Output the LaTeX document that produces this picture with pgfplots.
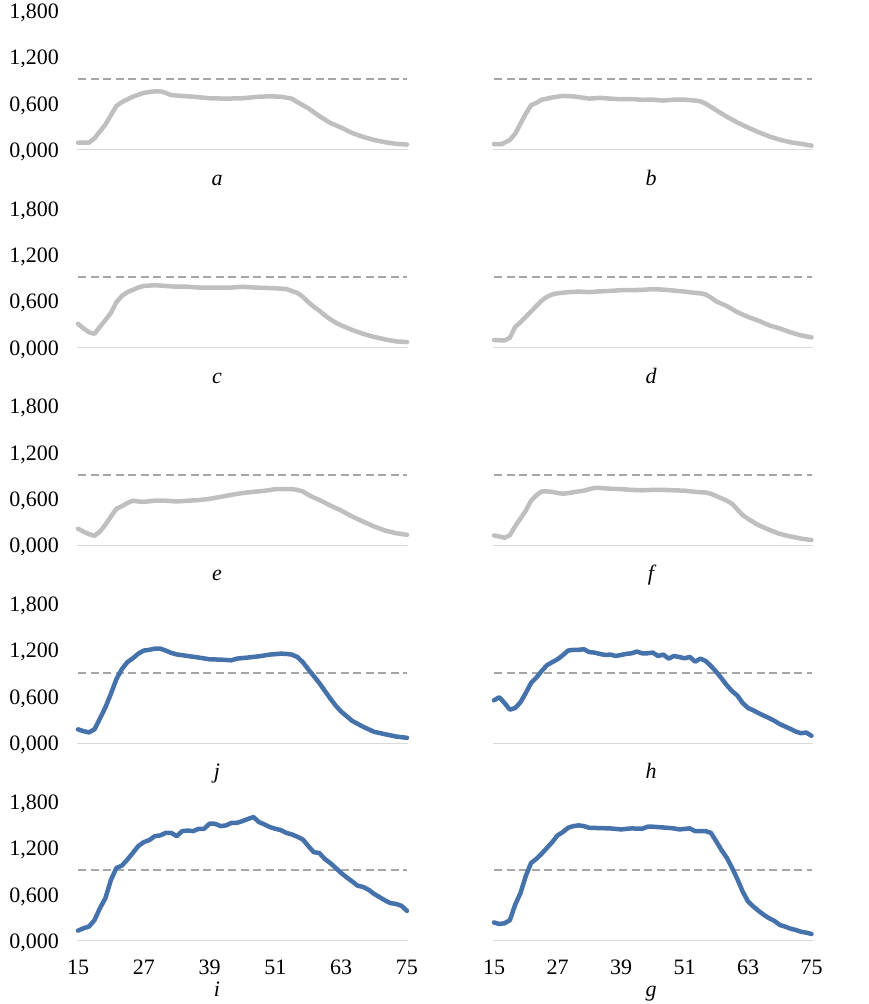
\documentclass[border=0pt]{standalone}
\usepackage{fontspec}
\setmainfont{Liberation Serif}
\usepackage{pgfplots}
\usepackage{pgfplotstable}
\pgfplotsset{compat=1.18}
\definecolor{curvegray}{HTML}{BFBFBF}
\definecolor{dashgray}{HTML}{A6A6A6}
\definecolor{basegray}{HTML}{D9D9D9}
\definecolor{curveblue}{HTML}{4672AC}

\pgfplotstableread{
x y
15 0.094
17 0.094
18 0.15
19 0.24
20 0.33
21 0.45
22 0.57
23 0.62
25 0.69
27 0.74
29 0.76
30 0.76
31 0.74
32 0.71
34 0.70
36 0.69
39 0.67
42 0.665
45 0.67
48 0.69
50 0.695
52 0.69
54 0.665
55 0.62
57 0.54
59 0.44
61 0.35
63 0.29
65 0.22
67 0.17
69 0.13
71 0.10
73 0.08
75 0.07
}\dataA

\pgfplotstableread{
x y
15 0.077
16.5 0.077
18 0.13
19 0.21
20 0.34
21 0.47
22 0.58
23 0.61
24 0.65
26 0.68
28 0.70
30 0.695
32 0.675
33 0.665
35 0.675
37 0.665
39 0.657
41 0.66
43 0.65
45 0.652
47 0.64
49 0.652
51 0.652
53 0.64
54 0.63
55 0.60
57 0.515
59 0.43
61 0.356
63 0.29
65 0.23
67 0.176
69 0.133
71 0.10
73 0.08
75 0.056
}\dataB

\pgfplotstableread{
x y
15 0.31
16 0.25
17 0.20
18 0.18
19 0.27
20 0.36
21 0.45
22 0.59
23 0.67
24 0.72
25 0.75
26 0.78
27 0.80
29 0.81
31 0.80
33 0.79
35 0.79
37 0.78
39 0.78
41 0.78
43 0.78
45 0.79
47 0.78
49 0.775
51 0.77
53 0.76
55 0.71
56 0.66
57 0.59
58 0.53
59 0.48
60 0.42
61 0.37
62 0.325
63 0.29
65 0.23
67 0.18
69 0.14
71 0.108
73 0.082
75 0.074
}\dataC

\pgfplotstableread{
x y
15 0.10
17 0.095
18 0.13
19 0.27
20 0.33
21 0.40
22 0.47
23 0.54
24 0.61
25 0.66
26 0.69
27 0.705
29 0.72
31 0.727
33 0.72
35 0.73
37 0.736
39 0.745
41 0.745
43 0.75
45 0.758
47 0.753
49 0.74
51 0.727
53 0.71
54 0.705
55 0.69
56 0.65
57 0.60
58 0.57
59 0.54
61 0.46
63 0.40
65 0.35
67 0.29
69 0.25
71 0.20
73 0.16
75 0.134
}\dataD

\pgfplotstableread{
x y
15 0.216
16 0.18
17 0.147
18 0.125
19 0.18
20 0.27
21 0.375
22 0.475
23 0.51
24 0.55
25 0.58
26 0.57
27 0.565
29 0.58
31 0.58
33 0.57
35 0.58
37 0.587
39 0.604
41 0.63
43 0.656
45 0.68
47 0.695
49 0.708
51 0.73
53 0.73
54 0.73
55 0.72
56 0.70
57 0.656
58 0.62
59 0.59
61 0.518
63 0.453
65 0.375
67 0.31
69 0.246
71 0.194
73 0.16
75 0.138
}\dataE

\pgfplotstableread{
x y
15 0.13
16 0.117
17 0.10
18 0.134
19 0.25
20 0.35
21 0.45
22 0.58
23 0.65
24 0.70
25 0.70
26 0.695
27 0.68
28 0.67
29 0.678
30 0.69
31 0.70
32 0.71
33 0.73
34 0.745
35 0.745
37 0.735
39 0.73
41 0.72
43 0.715
45 0.72
47 0.72
49 0.715
51 0.71
53 0.695
55 0.686
56 0.67
57 0.64
58 0.61
59 0.58
60 0.54
61 0.466
62 0.393
63 0.345
65 0.263
67 0.203
69 0.15
71 0.117
73 0.09
75 0.07
}\dataF

\pgfplotstableread{
x y
15 0.18
16 0.157
17 0.14
18 0.18
19 0.32
20 0.465
21 0.64
22 0.83
23 0.96
24 1.05
25 1.10
26 1.16
27 1.20
28 1.21
29 1.225
30 1.225
31 1.20
32 1.17
33 1.15
35 1.13
37 1.11
39 1.087
41 1.083
43 1.074
44 1.096
46 1.11
48 1.126
50 1.148
52 1.16
53 1.157
54 1.148
55 1.117
56 1.05
57 0.957
58 0.87
59 0.78
60 0.68
61 0.58
62 0.487
63 0.41
64 0.35
65 0.29
67 0.213
69 0.148
71 0.117
73 0.087
75 0.07
}\dataJ

\pgfplotstableread{
x y
15 0.556
16 0.596
17 0.52
18 0.435
19 0.457
20 0.53
21 0.65
22 0.78
23 0.85
24 0.935
25 1.01
26 1.05
27 1.087
28 1.14
29 1.20
30 1.21
31 1.21
32 1.217
33 1.18
34 1.174
35 1.157
36 1.143
37 1.148
38 1.13
39 1.143
40 1.157
41 1.165
42 1.187
43 1.165
44 1.165
45 1.174
46 1.13
47 1.148
48 1.096
49 1.13
50 1.117
51 1.10
52 1.117
53 1.057
54 1.096
55 1.065
56 1.0
57 0.926
58 0.84
59 0.75
60 0.674
61 0.617
62 0.52
63 0.457
64 0.426
65 0.39
66 0.357
67 0.326
68 0.29
69 0.248
70 0.217
71 0.187
72 0.152
73 0.13
74 0.139
75 0.096
}\dataH

\pgfplotstableread{
x y
15 0.134
16 0.165
17 0.187
18 0.27
19 0.425
20 0.555
21 0.79
22 0.945
23 0.976
24 1.054
25 1.14
26 1.23
27 1.28
28 1.306
29 1.358
30 1.367
31 1.40
32 1.40
33 1.358
34 1.423
35 1.43
36 1.423
37 1.453
38 1.453
39 1.52
40 1.518
41 1.488
42 1.497
43 1.53
44 1.53
45 1.553
46 1.58
47 1.605
48 1.54
49 1.51
50 1.475
51 1.453
52 1.436
53 1.40
54 1.38
55 1.35
56 1.315
57 1.23
58 1.15
59 1.14
60 1.063
61 1.01
62 0.946
63 0.88
64 0.824
65 0.772
66 0.716
67 0.70
68 0.664
69 0.61
70 0.568
71 0.525
72 0.49
73 0.48
74 0.455
75 0.39
}\dataI

\pgfplotstableread{
x y
15 0.24
16 0.22
17 0.23
18 0.27
19 0.47
20 0.62
21 0.84
22 1.01
23 1.063
24 1.13
25 1.206
26 1.28
27 1.367
28 1.41
29 1.466
30 1.488
31 1.497
32 1.488
33 1.466
35 1.462
37 1.458
39 1.445
41 1.458
43 1.453
44 1.48
45 1.48
47 1.47
49 1.458
50 1.445
52 1.458
53 1.423
55 1.423
56 1.40
57 1.29
58 1.176
59 1.076
60 0.946
61 0.80
62 0.64
63 0.512
64 0.447
65 0.39
66 0.338
67 0.295
68 0.26
69 0.208
70 0.187
71 0.16
72 0.143
73 0.12
74 0.108
75 0.091
}\dataG

\pgfplotsset{
  panel/.style={scale only axis, height=139pt, xmin=15, xmax=75, ymin=0, ymax=1.8,
    clip=false, anchor=south west,
    axis line style={draw=none}, tick style={draw=none},
    xtick=\empty, ytick=\empty,
    every tick label/.append style={font=\fontsize{22}{26}\selectfont},
    /pgf/number format/assume math mode=true},
  leftcol/.style={width=329pt},
  rightcol/.style={width=317.5pt},
  ylab/.style={ytick={0,0.6,1.2,1.8},
    yticklabel style={inner sep=0pt, anchor=base east, xshift=-19pt, yshift=-7.4pt,
      /pgf/number format/fixed, /pgf/number format/fixed zerofill,
      /pgf/number format/precision=3, /pgf/number format/use comma,
      /pgf/number format/1000 sep={}}},
  xlab/.style={xtick={15,27,39,51,63,75},
    xticklabel style={inner sep=0pt, anchor=north, yshift=-19pt}},
  gcurve/.style={curvegray, line width=4.5pt, line join=round, line cap=round},
  bcurve/.style={curveblue, line width=4.5pt, line join=round, line cap=round},
}
\newcommand{\guides}{%
  \addplot[basegray, line width=1pt] coordinates {(14.8,0) (75.2,0)};
  \addplot[dashgray, line width=2pt, dash pattern=on 8pt off 4.5pt] coordinates {(15,0.915) (75,0.915)};
}

\begin{document}
\begin{tikzpicture}
\useasboundingbox (0,0) rectangle (868pt,1004pt);
% row 1
\begin{axis}[panel, leftcol, ylab, at={(78pt,854pt)}]
\guides
\addplot[gcurve] table[x=x,y=y] {\dataA};
\end{axis}
\begin{axis}[panel, rightcol, at={(494pt,854pt)}]
\guides
\addplot[gcurve] table[x=x,y=y] {\dataB};
\end{axis}
% row 2
\begin{axis}[panel, leftcol, ylab, at={(78pt,656.25pt)}]
\guides
\addplot[gcurve] table[x=x,y=y] {\dataC};
\end{axis}
\begin{axis}[panel, rightcol, at={(494pt,656.25pt)}]
\guides
\addplot[gcurve] table[x=x,y=y] {\dataD};
\end{axis}
% row 3
\begin{axis}[panel, leftcol, ylab, at={(78pt,458.5pt)}]
\guides
\addplot[gcurve] table[x=x,y=y] {\dataE};
\end{axis}
\begin{axis}[panel, rightcol, at={(494pt,458.5pt)}]
\guides
\addplot[gcurve] table[x=x,y=y] {\dataF};
\end{axis}
% row 4
\begin{axis}[panel, leftcol, ylab, at={(78pt,260.75pt)}]
\guides
\addplot[bcurve] table[x=x,y=y] {\dataJ};
\end{axis}
\begin{axis}[panel, rightcol, at={(494pt,260.75pt)}]
\guides
\addplot[bcurve] table[x=x,y=y] {\dataH};
\end{axis}
% row 5
\begin{axis}[panel, leftcol, ylab, xlab, at={(78pt,63pt)}]
\guides
\addplot[bcurve] table[x=x,y=y] {\dataI};
\end{axis}
\begin{axis}[panel, rightcol, xlab, at={(494pt,63pt)}]
\guides
\addplot[bcurve] table[x=x,y=y] {\dataG};
\end{axis}
% panel letters
\begin{scope}[every node/.style={anchor=base, inner sep=0pt, font=\fontsize{22}{26}\selectfont\itshape}]
\node at (217pt,818.5pt) {a};
\node at (651pt,818.5pt) {b};
\node at (217pt,620.75pt) {c};
\node at (651pt,620.75pt) {d};
\node at (217pt,423pt) {e};
\node at (651pt,423pt) {f};
\node at (217pt,225.25pt) {j};
\node at (651pt,225.25pt) {h};
\node at (217pt,7.3pt) {i};
\node at (651pt,7.3pt) {g};
\end{scope}
\end{tikzpicture}
\end{document}
